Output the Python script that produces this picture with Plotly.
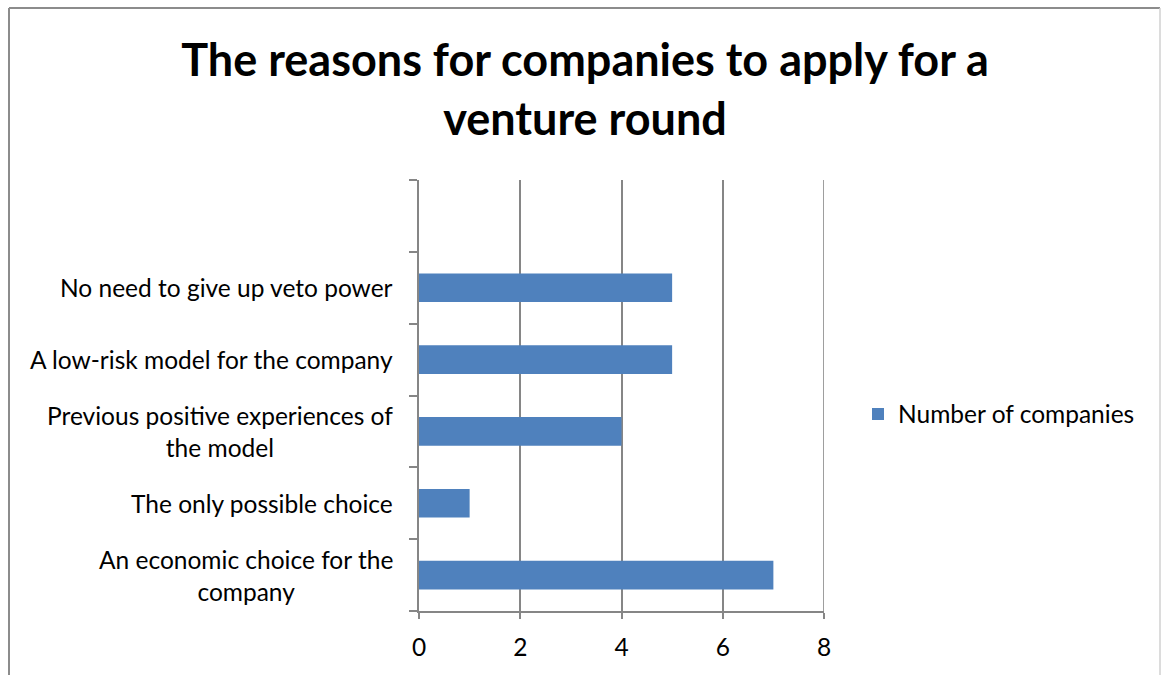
import plotly.graph_objects as go

# Survey answers, listed bottom to top on the chart
categories = [
    "An economic choice for the<br>company",
    "The only possible choice",
    "Previous positive experiences of<br>the model",
    "A low-risk model for the company",
    "No need to give up veto power",
]
values = [7, 1, 4, 5, 5]
series_name = "Number of companies"
x_ticks = [0, 2, 4, 6, 8]

# An extra blank slot sits above the last answer
axis_categories = categories + [" "]

FONT = "Lato, 'Open Sans', sans-serif"
GRID = "#868686"
BAR = "#4F81BD"
LABEL_SIZE = 24.5

fig = go.Figure()
fig.add_trace(go.Bar(
    x=values,
    y=categories,
    orientation="h",
    name=series_name,
    marker=dict(color=BAR, line=dict(width=0)),
    width=0.4,
    showlegend=True,
))

W, H = 1161, 675
L, R, T, B = 419, 337, 180, 64

fig.update_layout(
    width=W, height=H,
    margin=dict(l=L, r=R, t=T, b=B),
    paper_bgcolor="white",
    plot_bgcolor="white",
    font=dict(family=FONT, size=LABEL_SIZE, color="black"),
    title=dict(
        text="<b>The reasons for companies to apply for a<br>venture round</b>",
        font=dict(family=FONT, size=45, color="black"),
        x=585 / W, xanchor="center",
        y=1 - 76 / H, yanchor="top",
        xref="container", yref="container",
    ),
    showlegend=True,
    legend=dict(
        x=(858 - L) / (W - L - R), y=(H - B - 414) / (H - T - B),
        xanchor="left", yanchor="middle",
        font=dict(family=FONT, size=LABEL_SIZE, color="black"),
        bgcolor="rgba(0,0,0,0)",
        itemwidth=30,
    ),
    bargap=0.6,
)

fig.update_xaxes(
    range=[0, 8],
    tickvals=x_ticks,
    ticktext=[str(v) for v in x_ticks],
    showgrid=True, gridcolor=GRID, gridwidth=1.6,
    showline=True, linecolor=GRID, linewidth=1.6,
    ticks="outside", ticklen=6, tickcolor=GRID, tickwidth=1.6,
    ticklabelstandoff=8,
    zeroline=False,
    tickfont=dict(family=FONT, size=LABEL_SIZE, color="black"),
    fixedrange=True,
)

fig.update_yaxes(
    type="category",
    categoryorder="array",
    categoryarray=axis_categories,
    range=[-0.5, 5.5],
    tickson="boundaries",
    showticklabels=False,
    showgrid=False,
    showline=True, linecolor=GRID, linewidth=1.6,
    ticks="outside", ticklen=8, tickcolor=GRID, tickwidth=1.6,
    zeroline=False,
    fixedrange=True,
)

# Gridline at the far end of the value axis
fig.add_shape(type="line", xref="x", yref="paper",
              x0=x_ticks[-1], x1=x_ticks[-1], y0=0, y1=1,
              line=dict(color=GRID, width=1.6))

# Category labels, centred line by line to the left of the axis
for cat in categories:
    fig.add_annotation(
        x=0, xref="paper", xanchor="right", xshift=-24,
        y=cat, yref="y", yanchor="middle",
        text=cat, align="center", showarrow=False,
        font=dict(family=FONT, size=LABEL_SIZE, color="black"),
    )

# Chart frame
pw, ph = W - L - R, H - T - B
def px(xp):
    return (xp - L) / pw
def py(yp):
    return (H - B - yp) / ph

fig.add_shape(type="line", xref="paper", yref="paper",
              x0=px(9), x1=px(9), y0=py(8), y1=py(700),
              line=dict(color="#8c8c8c", width=2))
fig.add_shape(type="line", xref="paper", yref="paper",
              x0=px(9), x1=px(1160), y0=py(8), y1=py(8),
              line=dict(color="#8c8c8c", width=2))
fig.add_shape(type="line", xref="paper", yref="paper",
              x0=px(1160), x1=px(1160), y0=py(8), y1=py(700),
              line=dict(color="#d0d0d0", width=1.5))

fig.write_html("out.html")
